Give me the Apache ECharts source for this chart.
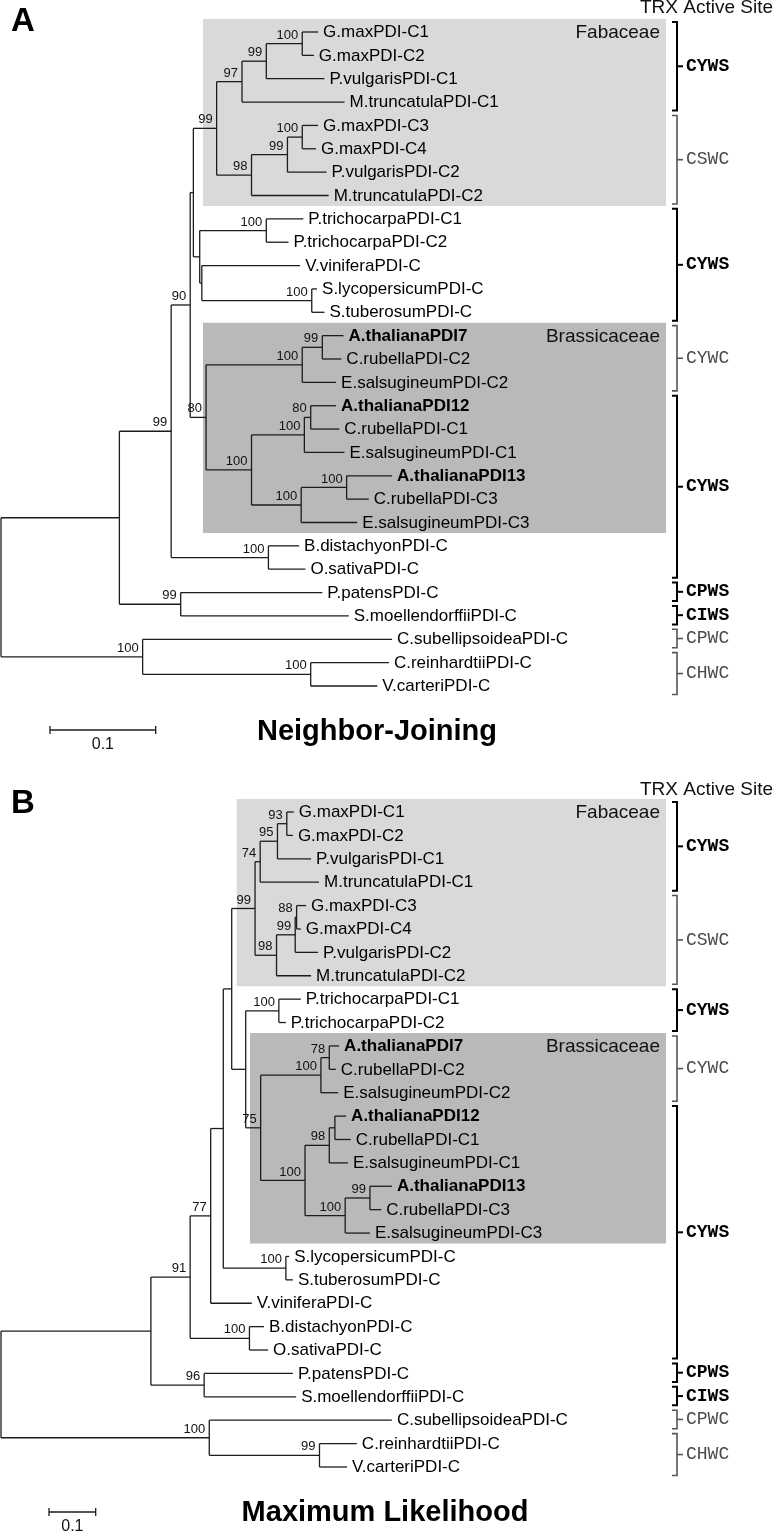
<!DOCTYPE html>
<html>
<head>
<meta charset="utf-8">
<script src="https://cdn.jsdelivr.net/npm/echarts@6/dist/echarts.min.js"></script>
<style>
  html, body { margin: 0; padding: 0; background: #fff; }
  #chart { width: 774px; height: 1532px; }
</style>
</head>
<body>
<div id="chart"></div>
<script>
// ---------- panel A : Neighbor-Joining ----------
var njLeaves = ["G.maxPDI-C1", "G.maxPDI-C2", "P.vulgarisPDI-C1", "M.truncatulaPDI-C1",
  "G.maxPDI-C3", "G.maxPDI-C4", "P.vulgarisPDI-C2", "M.truncatulaPDI-C2",
  "P.trichocarpaPDI-C1", "P.trichocarpaPDI-C2", "V.viniferaPDI-C", "S.lycopersicumPDI-C",
  "S.tuberosumPDI-C", "A.thalianaPDI7", "C.rubellaPDI-C2", "E.salsugineumPDI-C2",
  "A.thalianaPDI12", "C.rubellaPDI-C1", "E.salsugineumPDI-C1", "A.thalianaPDI13",
  "C.rubellaPDI-C3", "E.salsugineumPDI-C3", "B.distachyonPDI-C", "O.sativaPDI-C",
  "P.patensPDI-C", "S.moellendorffiiPDI-C", "C.subellipsoideaPDI-C", "C.reinhardtiiPDI-C",
  "V.carteriPDI-C"];
// distance of each tip from the root
var njLeafDist = [0.300, 0.296, 0.306, 0.325, 0.300, 0.298, 0.308, 0.310,
  0.286, 0.272, 0.283, 0.299, 0.306, 0.324, 0.322, 0.317,
  0.317, 0.320, 0.325, 0.370, 0.348, 0.337, 0.282, 0.288,
  0.304, 0.329, 0.370, 0.367, 0.356];
// internal nodes, children first; number = tip index, "nK" = internal node K
var njNodeKids = [[0, 1], ["n0", 2], ["n1", 3], [4, 5], ["n3", 6], ["n4", 7], ["n2", "n5"],
  [8, 9], [11, 12], [10, "n8"], ["n7", "n9"], ["n6", "n10"],
  [13, 14], ["n12", 15], [16, 17], ["n14", 18], [19, 20], ["n16", 21], ["n15", "n17"],
  ["n13", "n18"], ["n11", "n19"], [22, 23], ["n20", "n21"], [24, 25], ["n22", "n23"],
  [27, 28], [26, "n25"], ["n24", "n26"]];
var njNodeDist = [0.285, 0.251, 0.228, 0.285, 0.271, 0.237, 0.204,
  0.251, 0.294, 0.190, 0.188, 0.182,
  0.304, 0.285, 0.293, 0.287, 0.327, 0.284, 0.237,
  0.194, 0.179, 0.253, 0.161, 0.170, 0.112,
  0.293, 0.134, 0];
var njSupport = [100, 99, 97, 100, 99, 98, 99,
  100, 100, null, null, null,
  99, 100, 80, 100, 100, 100, 100,
  80, 90, 100, 99, 99, null,
  100, 100, null];
var njMotifs = ["CYWS", "CSWC", "CYWS", "CYWC", "CYWS", "CPWS", "CIWS", "CPWC", "CHWC"];
var njMotifFirst = [0, 4, 8, 13, 16, 24, 25, 26, 27];
var njMotifLast = [3, 7, 12, 15, 23, 24, 25, 26, 28];
var njFamilies = ["Fabaceae", "Brassicaceae"];
var njFamilyFirst = [0, 13];
var njFamilyLast = [7, 21];

// ---------- panel B : Maximum Likelihood ----------
var mlLeaves = ["G.maxPDI-C1", "G.maxPDI-C2", "P.vulgarisPDI-C1", "M.truncatulaPDI-C1",
  "G.maxPDI-C3", "G.maxPDI-C4", "P.vulgarisPDI-C2", "M.truncatulaPDI-C2",
  "P.trichocarpaPDI-C1", "P.trichocarpaPDI-C2", "A.thalianaPDI7", "C.rubellaPDI-C2",
  "E.salsugineumPDI-C2", "A.thalianaPDI12", "C.rubellaPDI-C1", "E.salsugineumPDI-C1",
  "A.thalianaPDI13", "C.rubellaPDI-C3", "E.salsugineumPDI-C3", "S.lycopersicumPDI-C",
  "S.tuberosumPDI-C", "V.viniferaPDI-C", "B.distachyonPDI-C", "O.sativaPDI-C",
  "P.patensPDI-C", "S.moellendorffiiPDI-C", "C.subellipsoideaPDI-C", "C.reinhardtiiPDI-C",
  "V.carteriPDI-C"];
var mlLeafDist = [0.627, 0.625, 0.664, 0.681, 0.653, 0.642, 0.679, 0.664,
  0.642, 0.610, 0.724, 0.717, 0.722, 0.739, 0.749, 0.743,
  0.837, 0.814, 0.790, 0.617, 0.625, 0.537, 0.563, 0.572,
  0.625, 0.632, 0.837, 0.762, 0.741];
var mlNodeKids = [[0, 1], ["n0", 2], ["n1", 3], [4, 5], ["n3", 6], ["n4", 7], ["n2", "n5"],
  [8, 9], [10, 11], ["n8", 12], [13, 14], ["n10", 15], [16, 17], ["n12", 18],
  ["n11", "n13"], ["n9", "n14"], ["n7", "n15"], ["n6", "n16"], [19, 20],
  ["n17", "n18"], ["n19", 21], [22, 23], ["n20", "n21"], [24, 25], ["n22", "n23"],
  [27, 28], [26, "n25"], ["n24", "n26"]];
var mlNodeDist = [0.612, 0.592, 0.555, 0.633, 0.630, 0.590, 0.544,
  0.595, 0.703, 0.685, 0.715, 0.703, 0.790, 0.737,
  0.651, 0.556, 0.524, 0.494, 0.610,
  0.476, 0.449, 0.532, 0.405, 0.435, 0.321,
  0.682, 0.446, 0];
var mlSupport = [93, 95, 74, 88, 99, 98, 99,
  100, 78, 100, null, 98, 99, 100,
  100, 75, null, null, 100,
  null, 77, 100, 91, 96, null,
  99, 100, null];
var mlMotifs = ["CYWS", "CSWC", "CYWS", "CYWC", "CYWS", "CPWS", "CIWS", "CPWC", "CHWC"];
var mlMotifFirst = [0, 4, 8, 10, 13, 24, 25, 26, 27];
var mlMotifLast = [3, 7, 9, 12, 23, 24, 25, 26, 28];
var mlFamilies = ["Fabaceae", "Brassicaceae"];
var mlFamilyFirst = [0, 10];
var mlFamilyLast = [7, 18];

var scaleLength = 0.1;
var strongMotifs = ["CYWS", "CPWS", "CIWS"];

var SANS = '"Liberation Sans", Arial, Helvetica, sans-serif';
var MONO = '"Liberation Mono", "Courier New", monospace';
var LINE = "#1c1c1c";

// tree layout: tip i sits at row i, every node halfway between its two children
function layoutTree(leafDist, kids, dist, support) {
  var ys = [];
  var segs = [];
  var boots = [];
  function yOf(r) { return typeof r === "number" ? r : ys[+r.slice(1)]; }
  function dOf(r) { return typeof r === "number" ? leafDist[r] : dist[+r.slice(1)]; }
  kids.forEach(function (k, i) {
    var y0 = yOf(k[0]), y1 = yOf(k[1]);
    ys[i] = (y0 + y1) / 2;
    segs.push([dist[i], y0, dist[i], y1]);
    segs.push([dist[i], y0, dOf(k[0]), y0]);
    segs.push([dist[i], y1, dOf(k[1]), y1]);
    if (support[i] != null) boots.push([dist[i], ys[i], support[i]]);
  });
  return { segs: segs, boots: boots };
}

var nj = layoutTree(njLeafDist, njNodeKids, njNodeDist, njSupport);
var ml = layoutTree(mlLeafDist, mlNodeKids, mlNodeDist, mlSupport);

function segRender(params, api) {
  var a = api.coord([api.value(0), api.value(1)]);
  var b = api.coord([api.value(2), api.value(3)]);
  return {
    type: "line",
    shape: { x1: a[0], y1: a[1], x2: b[0], y2: b[1] },
    style: { stroke: LINE, lineWidth: 1.3 }
  };
}

function bootRender(params, api) {
  var p = api.coord([api.value(0), api.value(1)]);
  return {
    type: "text",
    x: p[0] - 4,
    y: p[1] - 2,
    style: {
      text: String(api.value(2)),
      textAlign: "right",
      textVerticalAlign: "bottom",
      font: "13px " + SANS,
      fill: "#111"
    }
  };
}

function leafSeries(names, dists, idx) {
  return {
    type: "custom",
    xAxisIndex: idx,
    yAxisIndex: idx,
    clip: false,
    silent: true,
    data: names.map(function (n, i) { return [dists[i], i, n]; }),
    renderItem: function (params, api) {
      var p = api.coord([api.value(0), api.value(1)]);
      var name = names[params.dataIndex];
      var bold = name.indexOf("A.thaliana") === 0;
      return {
        type: "text",
        x: p[0] + 5,
        y: p[1] + 0.5,
        style: {
          text: name,
          textAlign: "left",
          textVerticalAlign: "middle",
          font: (bold ? "bold " : "") + "17px " + SANS,
          fill: "#000"
        }
      };
    }
  };
}

function scaleSeries(idx, x0, yBar) {
  return {
    type: "custom",
    xAxisIndex: idx,
    yAxisIndex: idx,
    clip: false,
    silent: true,
    data: [[scaleLength]],
    renderItem: function (params, api) {
      var a = api.coord([0, 0]);
      var b = api.coord([api.value(0), 0]);
      var x1 = x0 + (b[0] - a[0]);
      var st = { stroke: LINE, lineWidth: 1.3 };
      return {
        type: "group",
        children: [
          { type: "line", shape: { x1: x0, y1: yBar, x2: x1, y2: yBar }, style: st },
          { type: "line", shape: { x1: x0, y1: yBar - 4, x2: x0, y2: yBar + 4 }, style: st },
          { type: "line", shape: { x1: x1, y1: yBar - 4, x2: x1, y2: yBar + 4 }, style: st },
          { type: "text", x: (x0 + x1) / 2, y: yBar + 15,
            style: { text: String(api.value(0)), textAlign: "center", textVerticalAlign: "middle",
                     font: "16px " + SANS, fill: "#111" } }
        ]
      };
    }
  };
}

var chart = echarts.init(document.getElementById("chart"), null, { renderer: "canvas" });

var option = {
  animation: false,
  backgroundColor: "#fff",
  grid: [
    { left: 1, top: 32, width: 0.7 * 1057, height: 654 },
    { left: 1, top: 812, width: 1.6 * 467, height: 655 }
  ],
  xAxis: [
    { gridIndex: 0, type: "value", min: 0, max: 0.7, show: false },
    { gridIndex: 1, type: "value", min: 0, max: 1.6, show: false }
  ],
  yAxis: [
    { gridIndex: 0, type: "value", min: 0, max: 28, inverse: true, show: false },
    { gridIndex: 1, type: "value", min: 0, max: 28, inverse: true, show: false }
  ],
  series: [
    { type: "custom", xAxisIndex: 0, yAxisIndex: 0, clip: false, silent: true,
      data: nj.segs, renderItem: segRender },
    { type: "custom", xAxisIndex: 0, yAxisIndex: 0, clip: false, silent: true,
      data: nj.boots, renderItem: bootRender },
    leafSeries(njLeaves, njLeafDist, 0),
    scaleSeries(0, 50, 730),
    { type: "custom", xAxisIndex: 1, yAxisIndex: 1, clip: false, silent: true,
      data: ml.segs, renderItem: segRender },
    { type: "custom", xAxisIndex: 1, yAxisIndex: 1, clip: false, silent: true,
      data: ml.boots, renderItem: bootRender },
    leafSeries(mlLeaves, mlLeafDist, 1),
    scaleSeries(1, 49, 1512)
  ]
};
chart.setOption(option);

// annotations placed from the y axes of each panel
function rowY(gridIndex, row) {
  return chart.convertToPixel({ gridIndex: gridIndex }, [0, row])[1];
}

function panelGraphics(gridIndex, letter, title, titleX, titleY, trxY,
                       famNames, famFirst, famLast, famLeft, motifs, mFirst, mLast) {
  var els = [];
  var famFill = ["#d9d9d9", "#b9b9b9"];
  famNames.forEach(function (f, i) {
    var top = rowY(gridIndex, famFirst[i]) - 13;
    var bot = rowY(gridIndex, famLast[i]) + 10.5;
    els.push({ type: "rect", z: -10, shape: { x: famLeft[i], y: top, width: 666 - famLeft[i], height: bot - top },
               style: { fill: famFill[i] } });
    els.push({ type: "text", z: 5, x: 660, y: rowY(gridIndex, famFirst[i]) + 1,
               style: { text: f, textAlign: "right", textVerticalAlign: "middle", font: "19px " + SANS, fill: "#111" } });
  });
  motifs.forEach(function (m, i) {
    var strong = strongMotifs.indexOf(m) >= 0;
    var col = strong ? "#000" : "#555";
    var lw = strong ? 2 : 1.6;
    var top = rowY(gridIndex, mFirst[i]) - 10;
    var bot = rowY(gridIndex, mLast[i]) + 8.5;
    var mid = (top + bot) / 2;
    els.push({ type: "polyline", shape: { points: [[672, top], [677, top], [677, bot], [672, bot]] },
               style: { stroke: col, lineWidth: lw, fill: null } });
    els.push({ type: "line", shape: { x1: 677, y1: mid, x2: 683, y2: mid }, style: { stroke: col, lineWidth: lw } });
    els.push({ type: "text", x: 686, y: mid,
               style: { text: m, textAlign: "left", textVerticalAlign: "middle",
                        font: (strong ? "bold " : "") + "18px " + MONO, fill: strong ? "#000" : "#4a4a4a" } });
  });
  els.push({ type: "text", x: 773, y: trxY,
             style: { text: "TRX Active Site", textAlign: "right", textVerticalAlign: "middle", font: "19px " + SANS, fill: "#111" } });
  els.push({ type: "text", x: 11, y: trxY + 13.5,
             style: { text: letter, textAlign: "left", textVerticalAlign: "middle", font: "bold 33px " + SANS, fill: "#000" } });
  els.push({ type: "text", x: titleX, y: titleY,
             style: { text: title, textAlign: "center", textVerticalAlign: "middle", font: "bold 29px " + SANS, fill: "#000" } });
  return els;
}

chart.setOption({
  graphic: panelGraphics(0, "A", "Neighbor-Joining", 377, 732, 8,
      njFamilies, njFamilyFirst, njFamilyLast, [203, 203], njMotifs, njMotifFirst, njMotifLast)
    .concat(panelGraphics(1, "B", "Maximum Likelihood", 385, 1513, 790,
      mlFamilies, mlFamilyFirst, mlFamilyLast, [236.7, 250], mlMotifs, mlMotifFirst, mlMotifLast))
});
</script>
</body>
</html>
